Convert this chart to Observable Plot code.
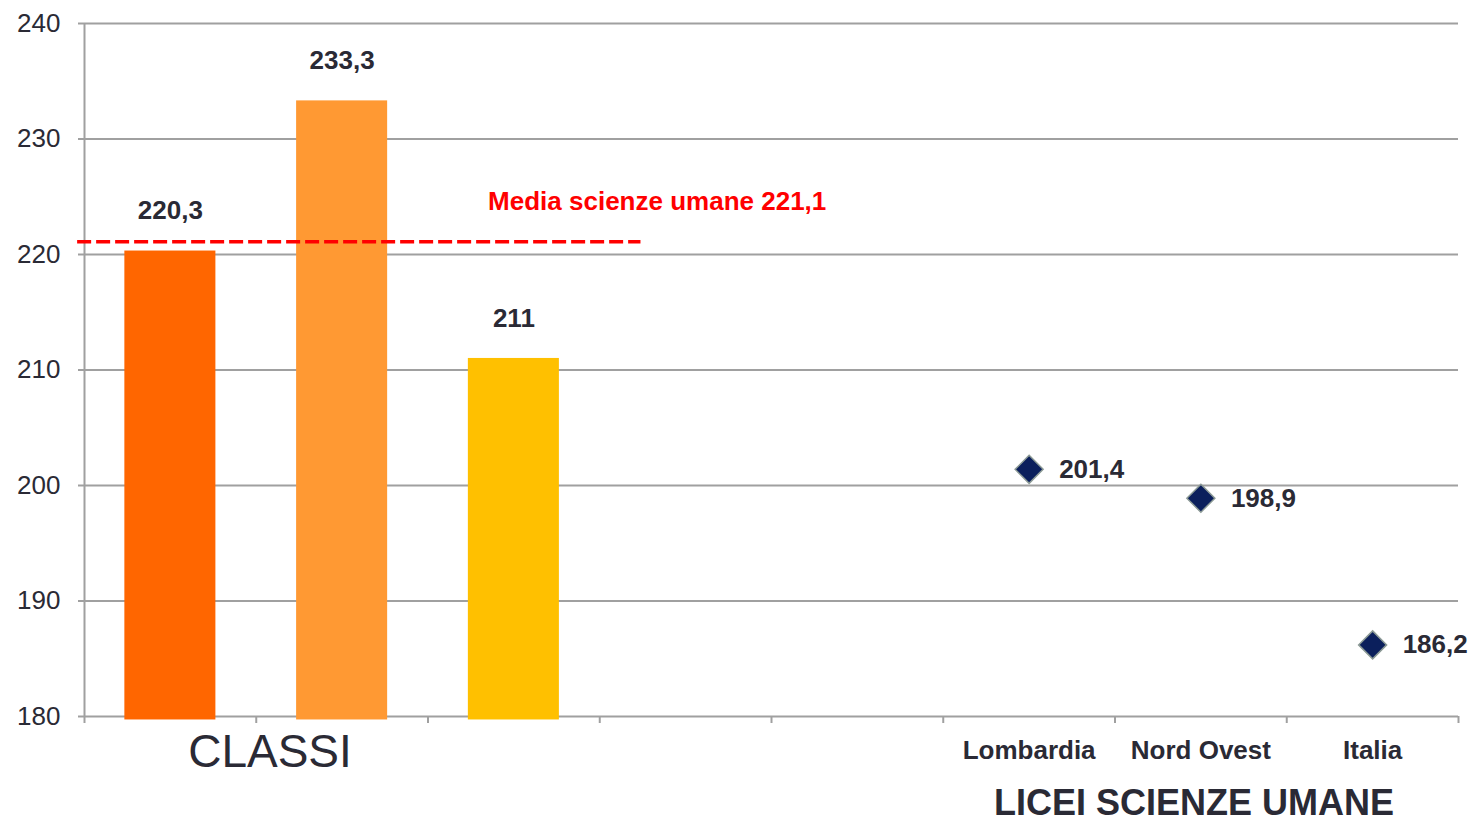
<!DOCTYPE html>
<html>
<head>
<meta charset="utf-8">
<script src="https://cdn.jsdelivr.net/npm/d3@7"></script>
<script src="https://cdn.jsdelivr.net/npm/@observablehq/plot@0.6"></script>
<style>
  html, body { margin: 0; padding: 0; background: #fff; }
</style>
</head>
<body>
<div id="chart"></div>
<script>
// ---- data ----
const classSlots = [0, 1, 2];
const classValues = [220.3, 233.3, 211];
const classLabels = ["220,3", "233,3", "211"];
const classColors = ["#ff6600", "#ff9933", "#ffc000"];

const areaSlots = [5, 6, 7];
const areaNames = ["Lombardia", "Nord Ovest", "Italia"];
const areaValues = [201.4, 198.9, 186.2];
const areaLabels = ["201,4", "198,9", "186,2"];

const meanValue = 221.1;
const meanLabel = "Media scienze umane 221,1";
const groupLeft = "CLASSI";
const groupRight = "LICEI SCIENZE UMANE";

const yTicks = [180, 190, 200, 210, 220, 230, 240];
const slotEdges = [0, 1, 2, 3, 4, 5, 6, 7, 8];

// ---- tables ----
const bars = classSlots.map((s, i) => ({slot: s, value: classValues[i], label: classLabels[i], color: classColors[i]}));
const areas = areaSlots.map((s, i) => ({slot: s, name: areaNames[i], value: areaValues[i], label: areaLabels[i]}));

const txt = "#2a2a35";
const grid = "#a0a0a0";
const half = 0.265;

const chart = Plot.plot({
  width: 1470,
  height: 825,
  marginLeft: 84,
  marginRight: 12,
  marginTop: 23,
  marginBottom: 109,
  x: {domain: [0, 8], axis: null},
  y: {domain: [180, 240], axis: null},
  color: {type: "identity"},
  style: {fontFamily: "'Liberation Sans', Arial, sans-serif", background: "#fff", overflow: "visible", color: txt},
  marks: [
    Plot.ruleY(yTicks.slice(1), {stroke: grid, strokeWidth: 2}),
    Plot.ruleY([180], {stroke: grid, strokeWidth: 2}),
    Plot.ruleX([0], {stroke: grid, strokeWidth: 2}),
    Plot.axisY({ticks: yTicks, label: null, tickSize: 6, tickPadding: 18, fontSize: 26, stroke: grid, strokeWidth: 2, fill: txt, tickFormat: d => String(d)}),
    Plot.axisX({ticks: slotEdges, label: null, tickSize: 7, stroke: grid, strokeWidth: 2, tickFormat: () => ""}),
    Plot.rectY(bars, {x1: d => d.slot + 0.5 - half, x2: d => d.slot + 0.5 + half, y1: 179.7, y2: "value", fill: "color"}),
    Plot.ruleY([meanValue], {x1: -0.04, x2: 3.24, stroke: "#ff0000", strokeWidth: 3.5, strokeDasharray: "14,5"}),
    Plot.text([meanLabel], {x: 2.35, y: meanValue, dy: -40, text: d => d, textAnchor: "start", fontWeight: "bold", fontSize: 26, fill: "#ff0000"}),
    Plot.text(bars, {x: d => d.slot + 0.5, y: "value", text: "label", dy: -40, fontWeight: "bold", fontSize: 26, fill: txt}),
    Plot.dot(areas, {x: d => d.slot + 0.5, y: "value", symbol: "diamond2", r: 12.6, fill: "#0b1f5c", stroke: "#8c9a96", strokeWidth: 1.5}),
    Plot.text(areas, {x: d => d.slot + 0.5, y: "value", text: "label", dx: 30, textAnchor: "start", fontWeight: "bold", fontSize: 26, fill: txt}),
    Plot.text(areas, {x: d => d.slot + 0.5, y: 180, text: "name", dy: 34, fontWeight: "bold", fontSize: 26, fill: txt}),
    Plot.text([groupLeft], {x: 1.08, y: 180, text: d => d, dy: 36, fontSize: 46, fill: txt}),
    Plot.text([groupRight], {x: 6.46, y: 180, text: d => d, dy: 87, fontSize: 36, fontWeight: "bold", fill: txt})
  ]
});
document.getElementById("chart").appendChild(chart);
</script>
</body>
</html>
